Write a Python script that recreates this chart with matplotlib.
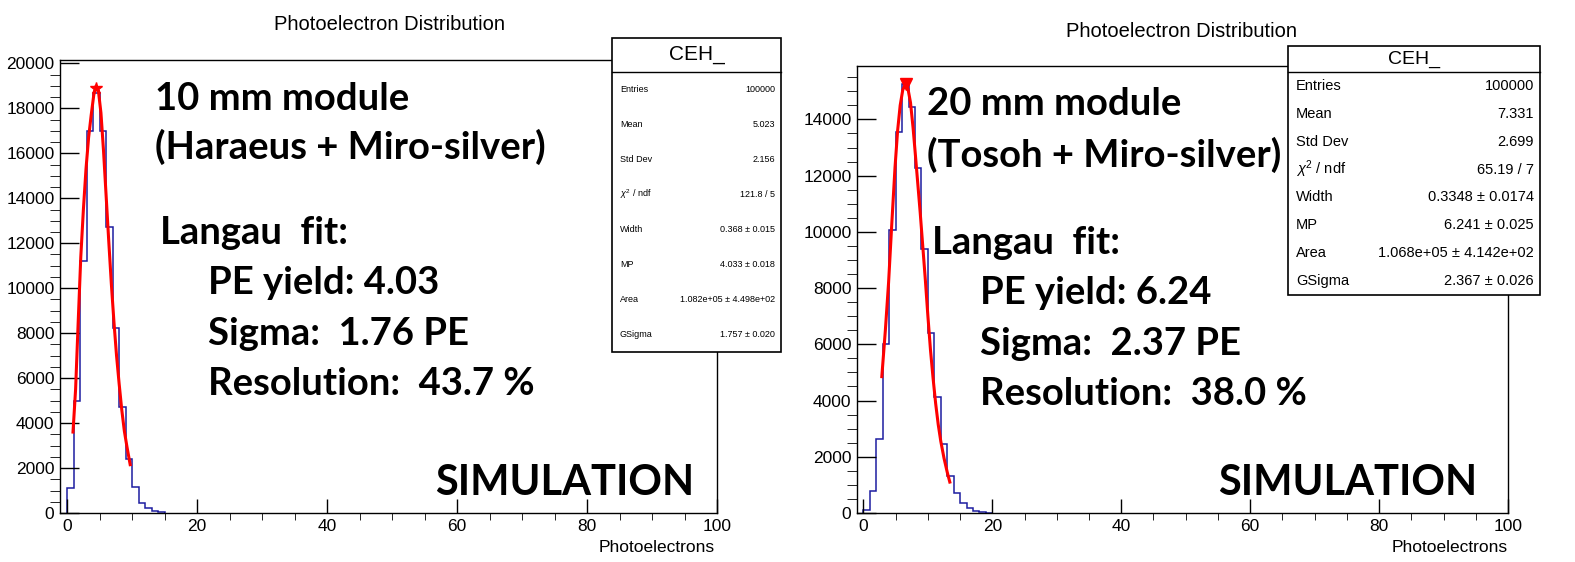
import numpy as np
import matplotlib
matplotlib.use("Agg")
import matplotlib.pyplot as plt
from matplotlib.patches import Rectangle
from matplotlib.lines import Line2D

W, H = 1575, 562

# histogram contents (1 PE bins starting at 0)
pe_10mm = [1100, 5000, 11200, 17000, 18700, 17000, 12700, 8250, 4700, 2400,
           1150, 450, 230, 100, 50]
pe_20mm = [120, 800, 2630, 6010, 10060, 13570, 15270, 14440, 12280, 9380,
           6410, 4120, 2460, 1325, 710, 355, 180, 80, 35, 15]

# Langau fit curves
fit10_x = [0.9, 1.3, 1.7, 2.1, 2.5, 2.9, 3.3, 3.7, 4.1, 4.45, 4.8, 5.2, 5.6, 6.0,
           6.4, 6.8, 7.2, 7.6, 8.0, 8.4, 8.8, 9.2, 9.7]
fit10_y = [3600, 5500, 8500, 11400, 13500, 15300, 16700, 17700, 18600, 19000,
           18800, 17800, 16100, 14100, 12100, 10200, 8500, 7000, 5750, 4600,
           3650, 2950, 2150]
fit20_x = [2.85, 3.4, 3.9, 4.4, 4.9, 5.3, 5.7, 6.1, 6.5, 6.9, 7.3, 7.7, 8.0, 8.4,
           8.8, 9.2, 9.6, 10.0, 10.4, 10.8, 11.2, 11.6, 12.0, 12.5, 13.0, 13.4]
fit20_y = [4850, 6500, 8200, 10300, 12300, 13600, 14500, 15050, 15250, 15100,
           14600, 13700, 12900, 11800, 10700, 9500, 8300, 7000, 5800, 4800,
           3900, 3150, 2550, 1950, 1450, 1100]
peak10 = (4.45, 18900)
peak20 = (6.6, 15250)

stats10 = [("Entries", "100000"), ("Mean", "5.023"), ("Std Dev", "2.156"),
           (r"$\chi^2$ / ndf", "121.8 / 5"), ("Width", "0.368 ± 0.015"),
           ("MP", "4.033 ± 0.018"), ("Area", "1.082e+05 ± 4.498e+02"),
           ("GSigma", "1.757 ± 0.020")]
stats20 = [("Entries", "100000"), ("Mean", "7.331"), ("Std Dev", "2.699"),
           (r"$\chi^2$ / ndf", "65.19 / 7"), ("Width", "0.3348 ± 0.0174"),
           ("MP", "6.241 ± 0.025"), ("Area", "1.068e+05 ± 4.142e+02"),
           ("GSigma", "2.367 ± 0.026")]

plt.rcParams["font.family"] = ["Liberation Sans", "DejaVu Sans"]
plt.rcParams["mathtext.fontset"] = "custom"
plt.rcParams["mathtext.rm"] = "Liberation Sans"
plt.rcParams["mathtext.it"] = "Liberation Sans:italic"

fig = plt.figure(figsize=(W / 100, H / 100), dpi=100)


def fx(x):
    return x / W


def fy(y):
    return 1 - y / H


def panel(x0, x1, ytop, ybot, xmin, ymax, vals, fx_, fy_, peak, marker, ms):
    ax = fig.add_axes([fx(x0), fy(ybot), fx(x1 - x0), (ybot - ytop) / H])
    edges = np.arange(len(vals) + 1)
    ax.stairs(vals, edges, color="#1c1ca0", lw=1.1, baseline=0)
    ax.plot(fx_, fy_, color="red", lw=2.2)
    ax.plot(*peak, marker=marker, color="red", ms=ms, ls="none")
    ax.set_xlim(xmin, 100)
    ax.set_ylim(0, ymax)
    ax.set_xticks(range(0, 101, 20))
    ax.set_xticks(range(0, 101, 5), minor=True)
    ax.set_yticks(range(0, int(ymax) + 1, 2000))
    ax.set_yticks(range(0, int(ymax) + 1, 500), minor=True)
    ax.tick_params(direction="in", labelsize=12.5, top=False, right=False,
                   width=1, pad=4)
    ax.tick_params(axis="x", which="major", length=10)
    ax.tick_params(axis="x", which="minor", length=5)
    ax.tick_params(axis="y", which="major", length=14)
    ax.tick_params(axis="y", which="minor", length=7)
    for s in ax.spines.values():
        s.set_linewidth(1)
    return ax


panel(60, 717, 60, 513, -1.1, 20150, pe_10mm, fit10_x, fit10_y, peak10, "*", 9)
panel(857, 1508, 66, 513, -1.0, 15900, pe_20mm, fit20_x, fit20_y, peak20, "v", 9)

fig.text(fx(389), fy(30), "Photoelectron Distribution", ha="center",
         va="baseline", fontsize=14.5)
fig.text(fx(1182), fy(37), "Photoelectron Distribution", ha="center",
         va="baseline", fontsize=14.5)
fig.text(fx(715), fy(552), "Photoelectrons", ha="right", va="baseline",
         fontsize=12.5)
fig.text(fx(1508), fy(552), "Photoelectrons", ha="right", va="baseline",
         fontsize=12.5)


def statbox(x0, x1, y0, y1, yh, rows, fs, hfs):
    fig.add_artist(Rectangle((fx(x0), fy(y1)), fx(x1 - x0), (y1 - y0) / H,
                             transform=fig.transFigure, fc="white",
                             ec="black", lw=1.2, zorder=5))
    fig.add_artist(Line2D([fx(x0), fx(x1)], [fy(yh), fy(yh)],
                          transform=fig.transFigure, color="black", lw=1,
                          zorder=6))
    fig.text(fx((x0 + x1) / 2), fy((y0 + yh) / 2), "CEH_", ha="center",
             va="center", fontsize=hfs, zorder=7)
    step = (y1 - yh) / len(rows)
    for i, (k, v) in enumerate(rows):
        yy = fy(yh + step * (i + 0.5))
        fig.text(fx(x0 + 8), yy, k, ha="left", va="center", fontsize=fs,
                 zorder=7)
        fig.text(fx(x1 - 6), yy, v, ha="right", va="center", fontsize=fs,
                 zorder=7)


statbox(612, 781, 38, 352, 72, stats10, 6.5, 15)
statbox(1288, 1540, 46, 295, 72, stats20, 10.5, 14)

big = dict(family=["Lato", "DejaVu Sans"], weight="bold", va="baseline",
           ha="left", fontsize=27.5)
fig.text(fx(155), fy(110), "10 mm module", **big)
fig.text(fx(155), fy(159), "(Haraeus + Miro-silver)", **big)
fig.text(fx(160), fy(244), "Langau  fit:", **big)
fig.text(fx(208), fy(294), "PE yield: 4.03", **big)
fig.text(fx(208), fy(345), "Sigma:  1.76 PE", **big)
fig.text(fx(208), fy(395), "Resolution:  43.7 %", **big)
fig.text(fx(927), fy(115), "20 mm module", **big)
fig.text(fx(927), fy(167), "(Tosoh + Miro-silver)", **big)
fig.text(fx(932), fy(254), "Langau  fit:", **big)
fig.text(fx(980), fy(304), "PE yield: 6.24", **big)
fig.text(fx(980), fy(355), "Sigma:  2.37 PE", **big)
fig.text(fx(980), fy(405), "Resolution:  38.0 %", **big)
big["fontsize"] = 30
fig.text(fx(435), fy(495), "SIMULATION", **big)
fig.text(fx(1218), fy(495), "SIMULATION", **big)

fig.savefig("out.png", dpi=100)
